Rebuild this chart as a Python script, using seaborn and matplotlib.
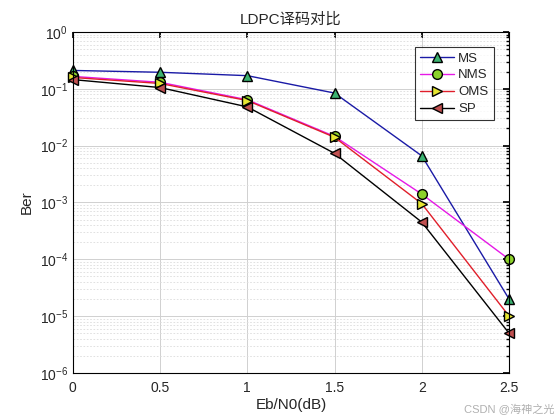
import matplotlib
matplotlib.use("Agg")
import matplotlib.pyplot as plt
import seaborn as sns
import numpy as np
import pandas as pd
from matplotlib.ticker import LogLocator, NullFormatter

ebn0 = [0, 0.5, 1, 1.5, 2, 2.5]
ber_ms = [0.21, 0.195, 0.17, 0.084, 0.0066, 2.0e-5]
ber_nms = [0.165, 0.13, 0.064, 0.0145, 0.0014, 1.0e-4]
ber_oms = [0.158, 0.124, 0.062, 0.014, 0.00095, 1.0e-5]
ber_sp = [0.145, 0.105, 0.048, 0.0073, 0.00045, 5.0e-6]
labels = ["MS", "NMS", "OMS", "SP"]
xticks = [0, 0.5, 1, 1.5, 2, 2.5]
xticklabels = ["0", "0.5", "1", "1.5", "2", "2.5"]

sns.set_theme(style="white")
plt.rcParams['font.family'] = ['Liberation Sans', 'Noto Sans CJK SC', 'DejaVu Sans']

fig = plt.figure(figsize=(5.6, 4.2), dpi=100)
ax = fig.add_axes([0.130, 0.112, 0.779, 0.812])

styles = [
    dict(color="#1a1aa6", marker="^", mfc="#3cb371"),
    dict(color="#e619e6", marker="o", mfc="#8cd12a"),
    dict(color="#e01e2a", marker=">", mfc="#e6e632"),
    dict(color="#000000", marker="<", mfc="#c05050"),
]
series = [ber_ms, ber_nms, ber_oms, ber_sp]
for lab, ys, st in zip(labels, series, styles):
    df = pd.DataFrame({"x": ebn0, "y": ys})
    sns.lineplot(data=df, x="x", y="y", ax=ax, color=st["color"], marker=st["marker"],
                 markerfacecolor=st["mfc"], markeredgecolor="black", markersize=7,
                 markeredgewidth=1.0, linewidth=1.0, label=lab, clip_on=False)

ax.set_yscale("log")
ax.set_ylim(1e-6, 1)
ax.set_xlim(0, 2.5)
ax.set_xticks(xticks)
ax.set_xticklabels(xticklabels)
ax.yaxis.set_major_locator(LogLocator(base=10, numticks=10))
ax.yaxis.set_minor_locator(LogLocator(base=10, subs=np.arange(2, 10), numticks=100))
ax.yaxis.set_minor_formatter(NullFormatter())

ax.grid(True, which="major", color="#d0d0d0", linewidth=0.7, linestyle="-")
ax.grid(True, which="minor", axis="y", color="#dcdcdc", linewidth=0.6, linestyle=(0, (2, 2)))
ax.set_axisbelow(True)

for s in ax.spines.values():
    s.set_color("black")
    s.set_linewidth(0.8)
ax.tick_params(which="both", direction="in", top=True, right=True, colors="black",
               labelcolor="#262626", labelsize=10)
ax.tick_params(which="major", length=4)
ax.tick_params(which="minor", length=2)
ax.tick_params(axis="x", pad=6)

ax.set_xlabel("Eb/N0(dB)", fontsize=11, color="#262626", labelpad=2)
ax.set_ylabel("Ber", fontsize=11, color="#262626")
ax.set_title("LDPC译码对比", fontsize=11, color="#262626", pad=6)

leg = ax.legend(loc="upper right", bbox_to_anchor=(0.98, 0.975), frameon=True, fancybox=False,
                edgecolor="black", fontsize=9.5, handlelength=2.6, borderpad=0.4,
                labelspacing=0.35, handletextpad=0.3)
leg.get_frame().set_linewidth(0.8)

fig.text(0.99, 0.012, "CSDN @海神之光", ha="right", va="bottom", fontsize=8, color="#b0b0b0")

fig.savefig("out.png", dpi=100)
